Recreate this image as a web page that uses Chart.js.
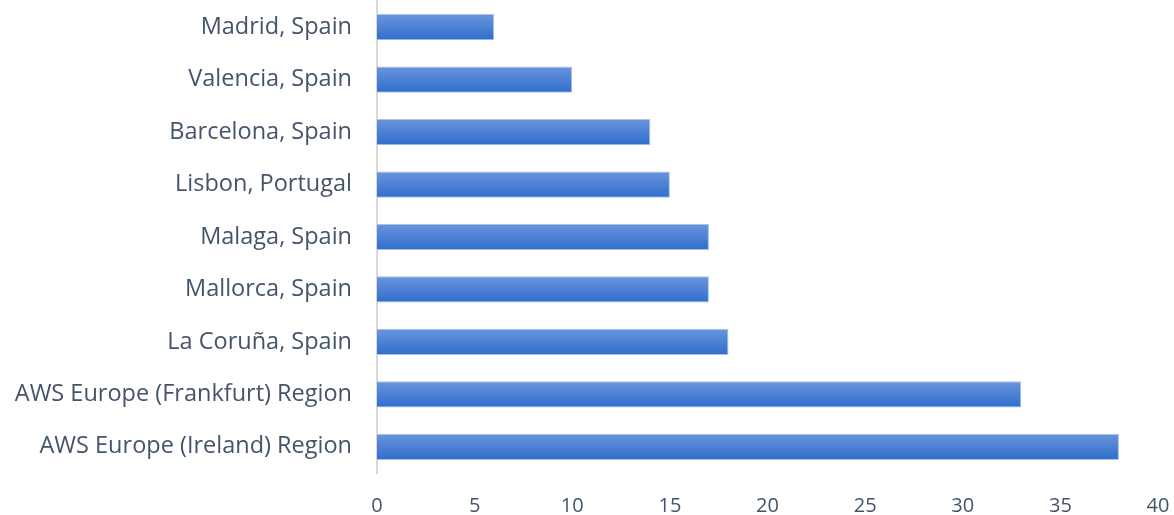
<!DOCTYPE html>
<html>
<head>
<meta charset="utf-8">
<script src="https://cdn.jsdelivr.net/npm/chart.js@4/dist/chart.umd.min.js"></script>
<style>
  html, body { margin: 0; padding: 0; background: #fff; overflow: hidden; }
  #wrap { position: relative; width: 1174px; height: 515px; }
</style>
</head>
<body>
<div id="wrap"><canvas id="latencyChart"></canvas></div>
<script>
const locations = [
  "Madrid, Spain",
  "Valencia, Spain",
  "Barcelona, Spain",
  "Lisbon, Portugal",
  "Malaga, Spain",
  "Mallorca, Spain",
  "La Coruña, Spain",
  "AWS Europe (Frankfurt) Region",
  "AWS Europe (Ireland) Region"
];
const values = [6, 10, 14, 15, 17, 17, 18, 33, 38];
const xTicks = [0, 5, 10, 15, 20, 25, 30, 35, 40];

const textColor = "#44546a";
const barPct = 0.5;

// each bar gets its own top-to-bottom gradient, lighter on top
function barGradient(context) {
  const chart = context.chart;
  const yScale = chart.scales.y;
  const area = chart.chartArea;
  if (!yScale || !area || context.dataIndex === undefined) return "#3c78d8";
  const center = yScale.getPixelForValue(context.dataIndex);
  const half = (area.bottom - area.top) / locations.length * barPct / 2;
  if (!isFinite(center) || !isFinite(half)) return "#3c78d8";
  const g = chart.ctx.createLinearGradient(0, center - half, 0, center + half);
  g.addColorStop(0, "#6b95dc");
  g.addColorStop(1, "#2e6dcc");
  return g;
}

const ctx = document.getElementById("latencyChart").getContext("2d");
const latencyChart = new Chart(ctx, {
  type: "bar",
  data: {
    labels: locations,
    datasets: [{
      data: values,
      backgroundColor: barGradient,
      borderColor: "#a9c2ec",
      borderWidth: 1,
      borderSkipped: "left",
      categoryPercentage: 1,
      barPercentage: barPct
    }]
  },
  options: {
    indexAxis: "y",
    responsive: true,
    maintainAspectRatio: false,
    animation: false,
    layout: { padding: { top: 1, right: 16, left: 0, bottom: 0 } },
    plugins: {
      legend: { display: false },
      tooltip: { enabled: false }
    },
    scales: {
      x: {
        min: 0,
        max: 40,
        afterBuildTicks: axis => { axis.ticks = xTicks.map(v => ({ value: v })); },
        afterFit: axis => {
          axis.height = 42;
          axis.paddingLeft = 0;
          axis.paddingRight = 0;
        },
        grid: { display: false, drawTicks: false },
        border: { display: false },
        ticks: {
          color: textColor,
          padding: 21,
          font: { family: "Open Sans", size: 20 }
        }
      },
      y: {
        afterFit: axis => {
          axis.width = 377;
          axis.paddingTop = 0;
          axis.paddingBottom = 0;
        },
        grid: { display: false, drawTicks: false },
        border: { display: true, color: "#d9d9d9", width: 2 },
        ticks: {
          color: textColor,
          padding: 25,
          font: { family: "Open Sans", size: 23.5 }
        }
      }
    }
  }
});
</script>
</body>
</html>
